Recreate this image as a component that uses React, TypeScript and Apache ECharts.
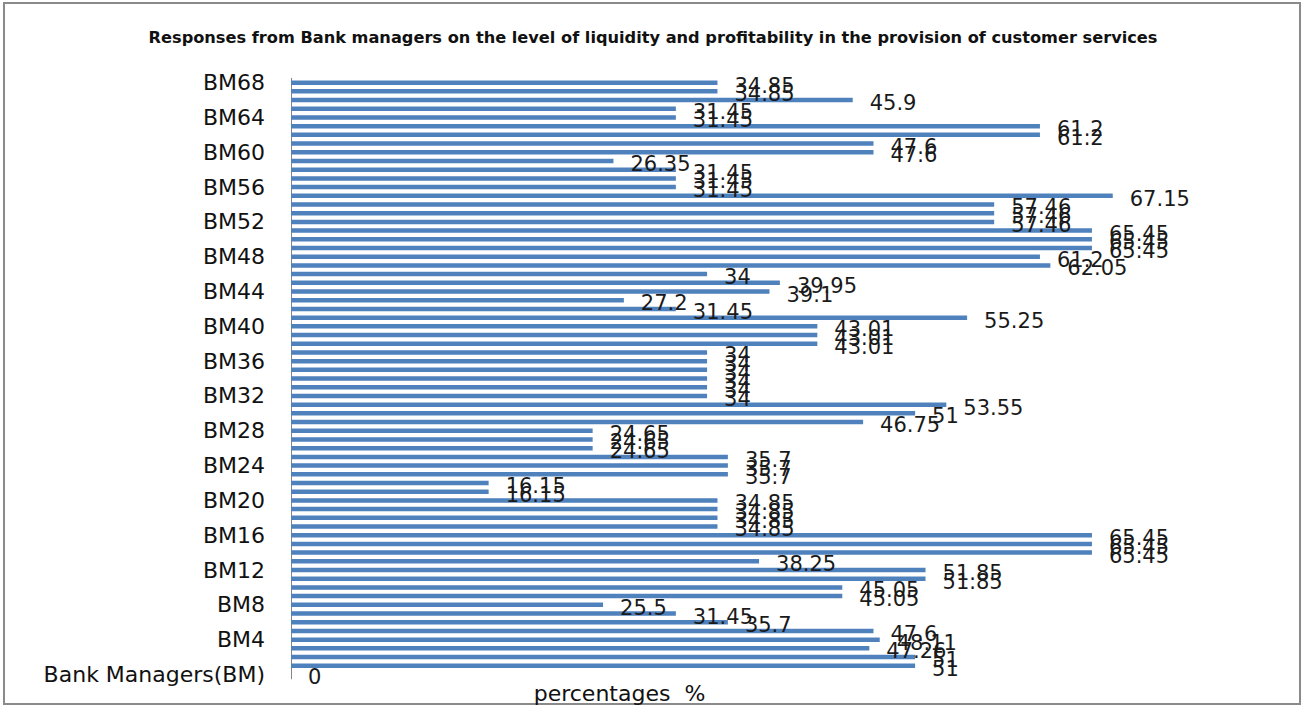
import React, { useEffect, useRef } from "react";
import * as echarts from "echarts";

const titleText =
  "Responses from Bank managers on the level of liquidity and profitability in the provision of customer services";
const xAxisName = "percentages  %";

const firstCategory = "Bank Managers(BM)";
const managerCount = 68;
const categories: string[] = [firstCategory];
for (let i = 1; i <= managerCount; i++) categories.push("BM" + i);

// index 0 = "Bank Managers(BM)", then BM1 ... BM68
const values: number[] = [
  0,
  51, 51, 47.26, 48.11, 47.6, 35.7, 31.45, 25.5, 45.05, 45.05,
  51.85, 51.85, 38.25, 65.45, 65.45, 65.45, 34.85, 34.85, 34.85, 34.85,
  16.15, 16.15, 35.7, 35.7, 35.7, 24.65, 24.65, 24.65, 46.75, 51,
  53.55, 34, 34, 34, 34, 34, 34, 43.01, 43.01, 43.01,
  55.25, 31.45, 27.2, 39.1, 39.95, 34, 62.05, 61.2, 65.45, 65.45,
  65.45, 57.46, 57.46, 57.46, 67.15, 31.45, 31.45, 31.45, 26.35, 47.6,
  47.6, 61.2, 61.2, 31.45, 31.45, 45.9, 34.85, 34.85,
];

const xMin = 0;
const xMax = 80;

export default function App() {
  const ref = useRef<HTMLDivElement>(null);
  useEffect(() => {
    if (!ref.current) return;
    const chart = echarts.init(ref.current, undefined, { renderer: "svg" });
    chart.setOption({
      animation: false,
      backgroundColor: "#ffffff",
      title: {
        text: titleText,
        left: "center",
        top: 24,
        textStyle: {
          fontFamily: "DejaVu Sans",
          fontWeight: "bold",
          fontSize: 16.2,
          color: "#111111",
        },
      },
      graphic: [
        {
          type: "rect",
          shape: { x: 4, y: 3, width: 1296, height: 701 },
          style: { fill: "none", stroke: "#8a8a8a", lineWidth: 2 },
          silent: true,
        },
      ],
      grid: {
        left: 291,
        right: 36,
        top: 78.3,
        bottom: 27.2,
        containLabel: false,
        outerBoundsMode: "none",
      },
      xAxis: {
        type: "value",
        min: xMin,
        max: xMax,
        axisLine: { show: false },
        axisTick: { show: false },
        axisLabel: { show: false },
        splitLine: { show: false },
        name: xAxisName,
        nameLocation: "middle",
        nameGap: 4,
        nameTextStyle: {
          fontFamily: "DejaVu Sans",
          fontSize: 22,
          color: "#111111",
          verticalAlign: "top",
          padding: [0, 322, 0, 0],
        },
      },
      yAxis: {
        type: "category",
        data: categories,
        axisLine: { show: true, lineStyle: { color: "#868686", width: 1 } },
        axisTick: { show: false },
        axisLabel: {
          interval: 3,
          margin: 26,
          fontFamily: "DejaVu Sans",
          fontSize: 22,
          color: "#111111",
        },
        splitLine: { show: false },
      },
      series: [
        {
          type: "bar",
          data: values,
          barWidth: 4.5,
          itemStyle: { color: "#4f81bd" },
          label: {
            show: true,
            position: "right",
            distance: 17,
            offset: [0, 3],
            fontFamily: "DejaVu Sans",
            fontSize: 21,
            color: "#1a1a1a",
          },
        },
      ],
    });
    return () => chart.dispose();
  }, []);
  return (
    <div
      ref={ref}
      style={{ position: "fixed", left: 0, top: 0, width: 1306, height: 706 }}
    />
  );
}
